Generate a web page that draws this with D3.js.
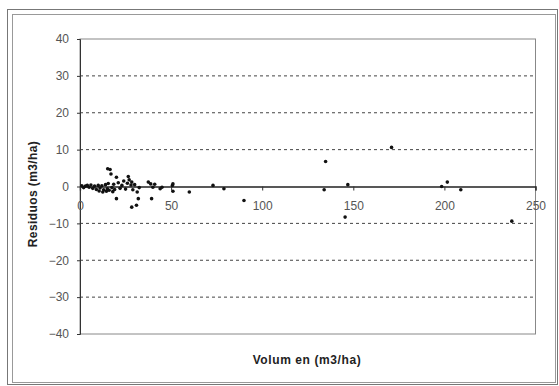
<!DOCTYPE html>
<html>
<head>
<meta charset="utf-8">
<script src="https://cdn.jsdelivr.net/npm/d3@7"></script>
<style>
  body { margin: 0; background: #fff; }
  text { font-family: "Liberation Sans", Arial, sans-serif; }
</style>
</head>
<body>
<div id="chart"></div>
<script>
// volume (m3/ha) vs residual (m3/ha)
var volumen = [1, 2, 3, 4, 5, 6, 7, 8, 9, 10, 10.5, 11, 12, 12.5, 13, 14, 14.5, 15, 15.2, 15.5, 16, 16.5, 17,
  17.5, 18, 18.5, 19, 20, 20, 21, 22, 23, 24, 25, 26, 26.5, 27, 28, 28.4, 28.4, 29, 30, 31, 31.4, 32, 32.5,
  37.5, 38.8, 39.3, 40, 41, 44, 45, 50.7, 51, 51, 60, 73, 79, 90, 134, 134.8, 145.5, 147, 171, 198.5, 201.6, 209, 237];
var residuos = [0.2, -0.3, 0.1, 0.3, -0.2, 0.4, -0.5, 0.1, -0.8, 0.3, -1.2, -0.4, 0.2, -1.5, -0.9, 0.5, -1.3, -0.6, 4.8, 0.8, -1.0, 4.6, 3.4,
  -0.3, -1.4, 0.6, -0.8, 2.5, -3.3, 1.0, -0.5, 0.3, 1.5, -0.7, 0.9, 2.7, 1.8, 0.4, 1.2, -5.6, -0.9, 0.5, -5.1, -1.5, -3.3, -0.3,
  1.2, 0.7, -3.3, -0.2, 0.6, -0.6, -0.2, 0.3, -1.3, 0.7, -1.5, 0.3, -0.6, -3.8, -0.9, 6.8, -8.3, 0.5, 10.6, 0, 1.2, -0.9, -9.4];
var xTicks = [0, 50, 100, 150, 200, 250];
var yTicks = [40, 30, 20, 10, 0, -10, -20, -30, -40];

var width = 559, height = 386;
var svg = d3.select('#chart').append('svg')
  .attr('width', width)
  .attr('height', height);

// double frame around the whole chart
svg.append('rect').attr('x', 7.5).attr('y', 9.5).attr('width', 550).attr('height', 375)
  .attr('fill', 'none').attr('stroke', '#777');
svg.append('rect').attr('x', 12.5).attr('y', 14.5).attr('width', 543).attr('height', 368)
  .attr('fill', 'none').attr('stroke', '#999');

var x = d3.scaleLinear().domain([0, 250]).range([80, 535.5]);
var y = d3.scaleLinear().domain([-40, 40]).range([334, 39]);

// plot area border
svg.append('rect').attr('x', x(0)).attr('y', y(40))
  .attr('width', x(250) - x(0)).attr('height', y(-40) - y(40))
  .attr('fill', 'none').attr('stroke', '#888');

// dashed gridlines
svg.append('g').selectAll('line')
  .data(yTicks.filter(function(d) { return d != 0 && Math.abs(d) != 40; }))
  .enter().append('line')
  .attr('x1', x(0)).attr('x2', x(250))
  .attr('y1', function(d) { return y(d); })
  .attr('y2', function(d) { return y(d); })
  .attr('stroke', '#444')
  .attr('stroke-dasharray', '3,3');

// y axis
var yAxis = svg.append('g')
  .attr('transform', 'translate(' + x(0) + ',0)')
  .call(d3.axisLeft(y).tickValues(yTicks).tickSize(3).tickPadding(8));
yAxis.select('.domain').attr('stroke', '#333');
yAxis.selectAll('line').attr('stroke', '#333');
yAxis.selectAll('text').attr('font-size', 12).attr('fill', '#555');

// x axis sits at zero
var xAxis = svg.append('g')
  .attr('transform', 'translate(0,' + y(0) + ')')
  .call(d3.axisBottom(x).tickValues(xTicks).tickSize(4).tickPadding(11));
xAxis.select('.domain').attr('stroke', '#222').attr('stroke-width', 1.3);
xAxis.selectAll('line').attr('stroke', '#333');
xAxis.selectAll('text').attr('font-size', 12).attr('fill', '#555');

// points
svg.append('g').selectAll('circle')
  .data(volumen)
  .enter().append('circle')
  .attr('r', 1.8)
  .attr('cx', function(d) { return x(d); })
  .attr('cy', function(d, i) { return y(residuos[i]); })
  .style('fill', '#111');

// titles
svg.append('text')
  .attr('x', 307).attr('y', 364)
  .attr('text-anchor', 'middle')
  .attr('font-size', 12).attr('font-weight', 'bold').attr('fill', '#222')
  .attr('letter-spacing', 0.6)
  .text('Volum en (m3/ha)');
svg.append('text')
  .attr('transform', 'translate(37,194) rotate(-90)')
  .attr('text-anchor', 'middle')
  .attr('font-size', 12).attr('font-weight', 'bold').attr('fill', '#222')
  .attr('letter-spacing', 0.4)
  .text('Residuos (m3/ha)');
</script>
</body>
</html>
